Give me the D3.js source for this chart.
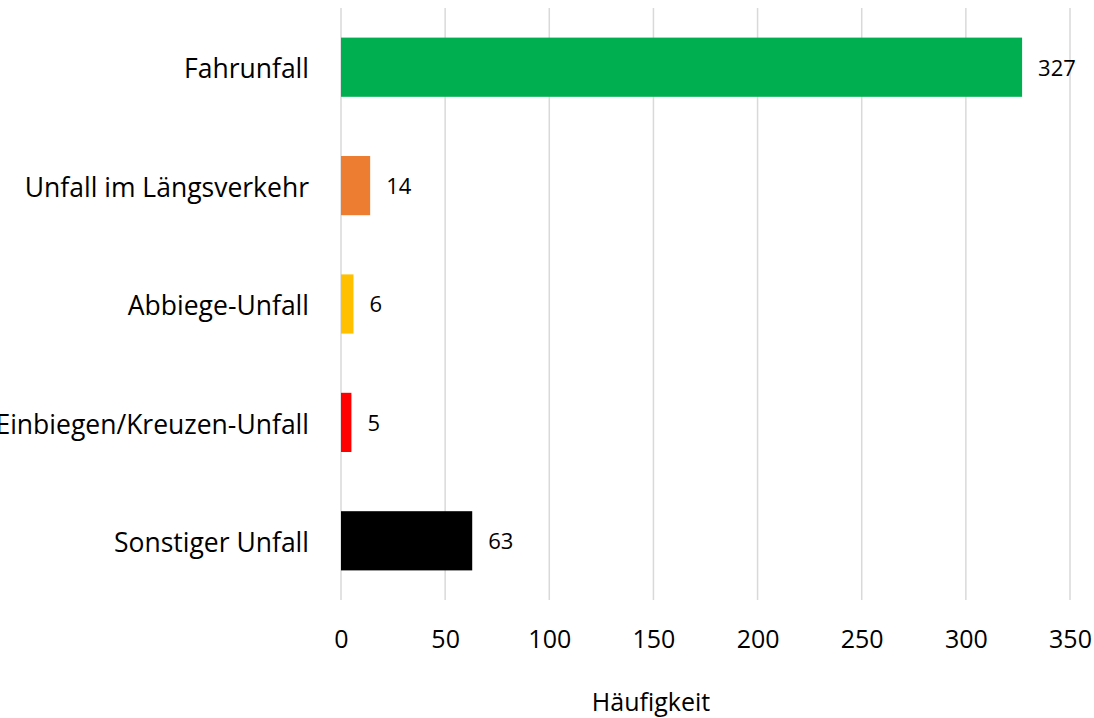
<!DOCTYPE html>
<html>
<head>
<meta charset="utf-8">
<script src="https://cdn.jsdelivr.net/npm/d3@7"></script>
<style>
  body { margin: 0; background: #fff; }
  text { font-family: "Open Sans", Lato, sans-serif; fill: #000; }
</style>
</head>
<body>
<svg width="1094" height="718"></svg>
<script>
// Unfalltypen und Häufigkeiten
var categories = ['Fahrunfall', 'Unfall im Längsverkehr', 'Abbiege-Unfall', 'Einbiegen/Kreuzen-Unfall', 'Sonstiger Unfall'];
var values = [327, 14, 6, 5, 63];
var colors = ['#00b050', '#ed7d31', '#ffc000', '#ff0000', '#000000'];
var ticks = [0, 50, 100, 150, 200, 250, 300, 350];

var svg = d3.select('svg'),
    margin = {top: 8, left: 341},
    width = 729,
    height = 592;

var x = d3.scaleLinear().domain([0, 350]).range([0, width]);
var y = d3.scaleBand().domain(categories).range([0, height])
    .paddingInner(0.5).paddingOuter(0.25);

var data = categories.map(function(c, i) { return {cat: c, value: values[i], color: colors[i]}; });

var g = svg.append('g')
    .attr('transform', 'translate(' + margin.left + ',' + margin.top + ')');

// gridlines
g.selectAll('line.grid')
    .data(ticks)
    .enter().append('line')
    .attr('class', 'grid')
    .attr('x1', function(d) { return x(d); })
    .attr('x2', function(d) { return x(d); })
    .attr('y1', 0)
    .attr('y2', height)
    .attr('stroke', '#d9d9d9')
    .attr('stroke-width', 1.5);

// x axis labels
var xAxis = g.append('g')
    .attr('transform', 'translate(0,' + height + ')')
    .call(d3.axisBottom(x).tickValues(ticks).tickSize(0).tickPadding(30));
xAxis.select('.domain').remove();
xAxis.selectAll('text')
    .style('font-family', '"Open Sans", Lato, sans-serif')
    .attr('font-size', 25)
    .attr('fill', '#000');

// category labels
var yAxis = g.append('g')
    .call(d3.axisLeft(y).tickSize(0).tickPadding(32));
yAxis.select('.domain').remove();
yAxis.selectAll('text')
    .style('font-family', '"Open Sans", Lato, sans-serif')
    .attr('font-size', 26.5)
    .attr('dy', '0.42em')
    .attr('fill', '#000');

// bars
g.selectAll('rect.bar')
    .data(data)
    .enter().append('rect')
    .attr('class', 'bar')
    .attr('x', x(0))
    .attr('y', function(d) { return y(d.cat); })
    .attr('width', function(d) { return x(d.value) - x(0); })
    .attr('height', y.bandwidth())
    .attr('fill', function(d) { return d.color; });

// value labels
g.selectAll('text.val')
    .data(data)
    .enter().append('text')
    .attr('class', 'val')
    .attr('x', function(d) { return x(d.value) + 16; })
    .attr('y', function(d) { return y(d.cat) + y.bandwidth() / 2; })
    .attr('dy', '0.38em')
    .attr('font-size', 22)
    .text(function(d) { return d.value; });

// axis title
svg.append('text')
    .attr('x', 651)
    .attr('y', 711)
    .attr('text-anchor', 'middle')
    .attr('font-size', 25)
    .text('Häufigkeit');
</script>
</body>
</html>
